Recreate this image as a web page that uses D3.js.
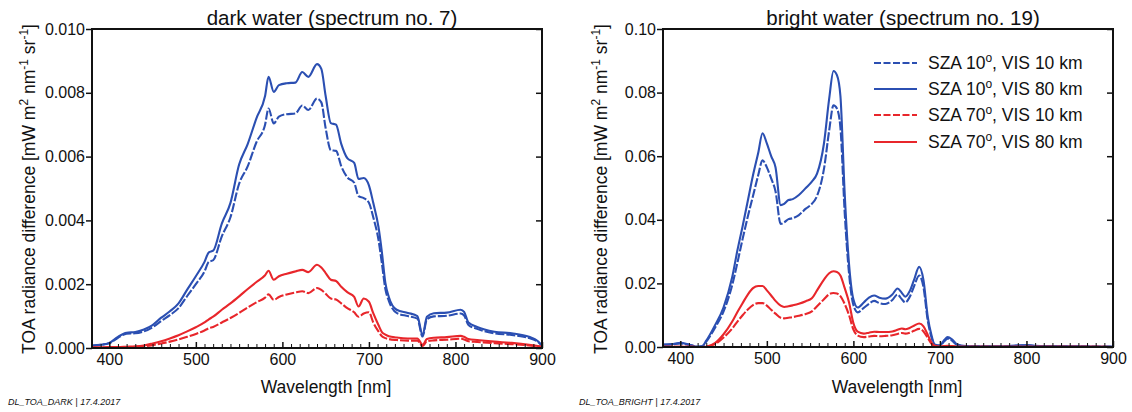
<!DOCTYPE html>
<html><head><meta charset="utf-8">
<script src="https://cdn.jsdelivr.net/npm/d3@7"></script>
<style>
body{margin:0;background:#fff}
svg{display:block}
text{font-family:"Liberation Sans",Arial,Helvetica,sans-serif;fill:#111}
</style>
</head><body>
<svg id="c" width="1132" height="412"></svg>
<script>
// ---------- DATA ----------
const darkWavelengths = [380,390,400,410,420,430,440,450,460,470,480,490,500,510,515,520,530,540,550,560,570,580,584,590,596,605,615,623,630,640,645,650,656,662,668,675,683,688,694,700,705,711,715,719,723,732,745,756,762,767,775,790,806,810,815,825,845,865,885,895,900];
const darkS10V10 = [0.00007,0.0001,0.00015,0.00032,0.00045,0.00046,0.00052,0.00065,0.00085,0.00103,0.00125,0.00163,0.002,0.0024,0.0027,0.00275,0.0035,0.0041,0.00515,0.0057,0.00645,0.007,0.00751,0.00704,0.00725,0.00733,0.00735,0.0076,0.00746,0.00782,0.0077,0.00689,0.0062,0.00618,0.0057,0.00535,0.00518,0.00476,0.0047,0.00455,0.0041,0.0034,0.00265,0.00185,0.00148,0.0011,0.001,0.00092,0.00036,0.0009,0.00099,0.00101,0.00108,0.00102,0.00072,0.0006,0.00046,0.00041,0.00031,0.0002,0.00007];
const darkS10V80 = [0.00008,0.0001,0.00016,0.00035,0.00048,0.0005,0.00058,0.00072,0.00095,0.00115,0.0014,0.00183,0.00225,0.0027,0.003,0.00305,0.0039,0.00455,0.00575,0.0064,0.0072,0.0079,0.0085,0.00803,0.00824,0.0083,0.00832,0.00865,0.0085,0.0089,0.00875,0.0079,0.00705,0.007,0.0064,0.00595,0.0058,0.0053,0.00533,0.0051,0.00455,0.0038,0.003,0.00204,0.0016,0.0012,0.0011,0.001,0.0004,0.00098,0.00109,0.00111,0.0012,0.00113,0.0008,0.00066,0.00051,0.00046,0.00035,0.00022,0.00008];
const darkS70V10 = [0.00001,0.00001,0.00002,0.00002,0.00003,0.00003,0.00005,0.00009,0.00014,0.0002,0.00027,0.00035,0.00044,0.00055,0.00062,0.00066,0.0008,0.00094,0.0011,0.00127,0.00143,0.00158,0.00168,0.00151,0.0016,0.00168,0.00174,0.00178,0.00172,0.00188,0.00182,0.0017,0.00155,0.00152,0.0014,0.00125,0.00112,0.00098,0.00108,0.00112,0.0008,0.00052,0.00037,0.00031,0.00028,0.00025,0.00023,0.00023,0.00006,0.00021,0.00024,0.00026,0.00029,0.00027,0.00021,0.00019,0.00015,0.00012,0.00008,0.00005,0.00002];
const darkS70V80 = [0.00002,0.00002,0.00003,0.00003,0.00004,0.00005,0.00008,0.00014,0.00021,0.0003,0.0004,0.00052,0.00065,0.0008,0.0009,0.00098,0.0012,0.0014,0.00162,0.00185,0.00207,0.00228,0.00242,0.00214,0.00225,0.00233,0.0024,0.00245,0.00238,0.00261,0.00252,0.00235,0.00214,0.0021,0.00192,0.00175,0.0016,0.0013,0.00155,0.00145,0.00109,0.00072,0.0005,0.00042,0.00037,0.00033,0.0003,0.0003,0.0001,0.00028,0.00032,0.00034,0.00038,0.00035,0.00028,0.00025,0.0002,0.00016,0.0001,0.00006,0.00003];

const brightWavelengths = [380,390,400,410,420,425,430,440,450,460,466,472,478,484,490,495,500,505,510,516,520,525,530,537,545,552,558,566,572,577,581,585,590,595,600,605,612,618,624,630,637,645,651,656,660,665,670,676,681,686,690,694,700,705,709,714,720,730,750,770,790,800,810,830,860,900];
const brightS10V10 = [0.0007,0.0008,0.0011,0.0007,0.0001,0.0002,0.0017,0.006,0.0112,0.0195,0.0265,0.034,0.041,0.0475,0.054,0.0587,0.0565,0.053,0.049,0.0387,0.0392,0.0402,0.0405,0.0415,0.0435,0.045,0.0475,0.056,0.068,0.076,0.075,0.069,0.042,0.023,0.0132,0.0109,0.0123,0.0136,0.0145,0.0138,0.0135,0.0148,0.0165,0.015,0.014,0.0157,0.019,0.0225,0.0188,0.0082,0.0033,0.0006,0.0004,0.0018,0.0026,0.002,0.0006,0.0002,0.0002,0.0002,0.0004,0.0005,0.0003,0.0002,0.0002,0.0001];
const brightS10V80 = [0.0008,0.0009,0.0013,0.0008,0.0001,0.0002,0.002,0.0068,0.0125,0.022,0.0304,0.038,0.046,0.054,0.061,0.0672,0.064,0.06,0.0565,0.0446,0.045,0.0462,0.0465,0.0478,0.05,0.052,0.0545,0.064,0.078,0.0868,0.0855,0.079,0.048,0.026,0.015,0.0124,0.014,0.0155,0.0162,0.0155,0.0152,0.0165,0.0184,0.017,0.0158,0.0175,0.021,0.0252,0.021,0.0094,0.004,0.0008,0.0005,0.0022,0.0031,0.0024,0.0008,0.0003,0.0002,0.0002,0.0005,0.0006,0.0004,0.0003,0.0002,0.0001];
const brightS70V10 = [0.0001,0.0001,0.0001,0.0001,0,0,0.0001,0.0009,0.003,0.0058,0.008,0.01,0.0118,0.0132,0.0138,0.0138,0.013,0.0117,0.0105,0.0092,0.009,0.0092,0.0094,0.0098,0.0104,0.0112,0.0128,0.015,0.0166,0.017,0.0168,0.016,0.0135,0.01,0.0055,0.0036,0.0031,0.0033,0.0035,0.0034,0.0035,0.0037,0.0041,0.0044,0.0042,0.0045,0.0051,0.0057,0.0049,0.0028,0.0011,0.0003,0.0001,0.0002,0.0003,0.0002,0.0001,0.0001,0.0001,0.0001,0.0001,0.0001,0.0001,0.0001,0.0001,0];
const brightS70V80 = [0.0001,0.0001,0.0001,0.0001,0,0,0.0001,0.0012,0.004,0.008,0.011,0.0138,0.0165,0.0185,0.0192,0.0192,0.0178,0.0162,0.0145,0.013,0.0126,0.0128,0.0131,0.0136,0.0144,0.0153,0.0178,0.0212,0.0232,0.0238,0.0236,0.0225,0.0185,0.014,0.0075,0.0048,0.0042,0.0045,0.0048,0.0047,0.0047,0.0049,0.0054,0.0058,0.0056,0.006,0.0067,0.0074,0.0065,0.0038,0.0015,0.0004,0.0001,0.0003,0.0004,0.0003,0.0001,0.0001,0.0001,0.0001,0.0001,0.0001,0.0001,0.0001,0.0001,0];

const xTicks = [400,500,600,700,800,900];
const darkYTicks = [0,0.002,0.004,0.006,0.008,0.010];
const brightYTicks = [0,0.02,0.04,0.06,0.08,0.10];
const legendSza = ["10","10","70","70"];
const legendVis = ["10","80","10","80"];
const panelTitles = ["dark water (spectrum no. 7)","bright water (spectrum no. 19)"];
const footers = ["DL_TOA_DARK | 17.4.2017","DL_TOA_BRIGHT | 17.4.2017"];

// ---------- STYLE ----------
const BLUE = "#2b4fb2", RED = "#e8262b";
const seriesColor = [BLUE, BLUE, RED, RED];
const seriesDash = ["9,2", null, "9,2", null];
const legendDash = ["7,2.5", null, "7,2.5", null];

const panels = [
  {x0:92, x1:542, y0:29, y1:348, wl:darkWavelengths, series:[darkS10V10,darkS10V80,darkS70V10,darkS70V80], yMax:0.010, yTicks:darkYTicks, fmt:d3.format(".3f"), ylabX:35, footX:8, legend:false},
  {x0:663, x1:1113, y0:29, y1:347, wl:brightWavelengths, series:[brightS10V10,brightS10V80,brightS70V10,brightS70V80], yMax:0.10, yTicks:brightYTicks, fmt:d3.format(".2f"), ylabX:607, footX:579, legend:true}
];

const svg = d3.select("#c");

panels.forEach((p, pi) => {
  const x = d3.scaleLinear().domain([380, 900]).range([p.x0, p.x1]);
  const y = d3.scaleLinear().domain([0, p.yMax]).range([p.y1, p.y0]);
  const g = svg.append("g");

  const clipId = "clip" + pi;
  svg.append("clipPath").attr("id", clipId).append("rect")
    .attr("x", p.x0).attr("y", p.y0).attr("width", p.x1 - p.x0).attr("height", p.y1 - p.y0);

  // curves
  const line = d3.line().x((d, i) => x(p.wl[i])).y(d => y(d)).curve(d3.curveMonotoneX);
  const cg = g.append("g").attr("clip-path", `url(#${clipId})`);
  p.series.forEach((s, si) => {
    cg.append("path").attr("d", line(s)).attr("fill", "none")
      .attr("stroke", seriesColor[si]).attr("stroke-width", 2.1)
      .attr("stroke-dasharray", seriesDash[si]).attr("stroke-linejoin", "round");
  });

  // minor x ticks (inward)
  const minor = d3.range(380, 901, 10).filter(v => xTicks.indexOf(v) < 0);
  g.append("g").attr("transform", `translate(0,${p.y1})`)
    .call(d3.axisBottom(x).tickValues(minor).tickSize(-4).tickFormat(""))
    .call(a => a.select(".domain").remove())
    .call(a => a.selectAll("line").attr("stroke", "#111").attr("stroke-width", 1));
  // major x ticks
  g.append("g").attr("transform", `translate(0,${p.y1})`)
    .call(d3.axisBottom(x).tickValues(xTicks).tickSizeInner(-6).tickSizeOuter(0).tickPadding(6).tickFormat(d3.format("d")))
    .call(a => a.select(".domain").remove())
    .call(a => a.selectAll("line").attr("stroke", "#111").attr("stroke-width", 1.5))
    .call(a => a.selectAll("text").attr("font-size", 16).attr("fill", "#111").attr("dy", "0.71em").attr("y", 6));

  // left y ticks (outward)
  g.append("g").attr("transform", `translate(${p.x0},0)`)
    .call(d3.axisLeft(y).tickValues(p.yTicks).tickSizeInner(6).tickSizeOuter(0).tickPadding(1).tickFormat(p.fmt))
    .call(a => a.select(".domain").remove())
    .call(a => a.selectAll("line").attr("stroke", "#111").attr("stroke-width", 1.5))
    .call(a => a.selectAll("text").attr("font-size", 16).attr("fill", "#111"));
  // right y ticks (inward)
  g.append("g").attr("transform", `translate(${p.x1},0)`)
    .call(d3.axisRight(y).tickValues(p.yTicks).tickSizeInner(-6).tickSizeOuter(0).tickFormat(""))
    .call(a => a.select(".domain").remove())
    .call(a => a.selectAll("line").attr("stroke", "#111").attr("stroke-width", 1.5));

  // frame
  g.append("rect").attr("x", p.x0).attr("y", p.y0).attr("width", p.x1 - p.x0).attr("height", p.y1 - p.y0)
    .attr("fill", "none").attr("stroke", "#111").attr("stroke-width", 2);

  // title
  g.append("text").attr("x", (p.x0 + p.x1) / 2 + 15).attr("y", 25).attr("text-anchor", "middle")
    .attr("font-size", 20.5).text(panelTitles[pi]);

  // x label
  g.append("text").attr("x", (p.x0 + p.x1) / 2 + 9).attr("y", 393).attr("text-anchor", "middle")
    .attr("font-size", 17.5).text("Wavelength [nm]");

  // y label
  const yl = g.append("text").attr("transform", `translate(${p.ylabX},189) rotate(-90)`)
    .attr("text-anchor", "middle").attr("font-size", 17.5);
  yl.append("tspan").text("TOA radiance difference [mW m");
  yl.append("tspan").attr("dy", -7).attr("font-size", 12).text("2");
  yl.append("tspan").attr("dy", 7).text(" nm");
  yl.append("tspan").attr("dy", -7).attr("font-size", 12).text("-1");
  yl.append("tspan").attr("dy", 7).text(" sr");
  yl.append("tspan").attr("dy", -7).attr("font-size", 12).text("-1");
  yl.append("tspan").attr("dy", 7).text("]");

  // footer
  g.append("text").attr("x", p.footX).attr("y", 405).attr("font-size", 9).attr("font-style", "italic")
    .attr("fill", "#333").text(footers[pi]);

  // legend
  if (p.legend) {
    const rows = [63, 89, 115, 142];
    legendSza.forEach((sza, i) => {
      const ry = rows[i];
      g.append("line").attr("x1", 874).attr("x2", 917).attr("y1", ry).attr("y2", ry)
        .attr("stroke", seriesColor[i]).attr("stroke-width", 2).attr("stroke-dasharray", legendDash[i]);
      const t = g.append("text").attr("x", 928).attr("y", ry + 6).attr("font-size", 17.5);
      t.append("tspan").text("SZA " + sza);
      t.append("tspan").attr("dy", -7).attr("font-size", 12).text("o");
      t.append("tspan").attr("dy", 7).text(", VIS " + legendVis[i] + " km");
    });
  }
});
</script>
</body></html>
